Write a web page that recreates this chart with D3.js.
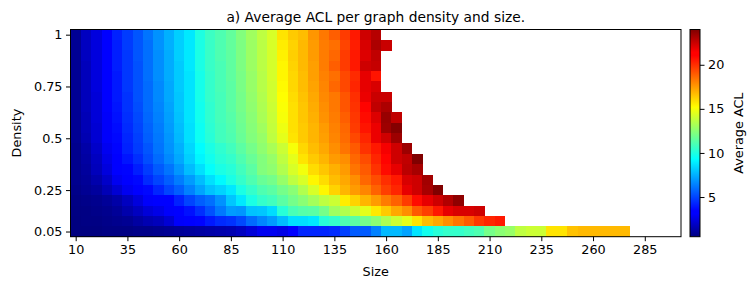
<!DOCTYPE html>
<html><head><meta charset="utf-8">
<script src="https://cdn.jsdelivr.net/npm/d3@7"></script>
<style>
body{margin:0;background:#fff}
svg text{font-family:"DejaVu Sans",sans-serif;fill:#000}
</style>
</head><body>
<svg id="chart" width="756" height="290"></svg>
<script>
// ---------- DATA ----------
const sizes = [10,15,20,25,30,35,40,45,50,55,60,65,70,75,80,85,90,95,100,105,110,115,120,125,130,135,140,145,150,155,160,165,170,175,180,185,190,195,200,205,210,215,220,225,230,235,240,245,250,255,260,265,270,275,280,285,290,295,300];
const densities = [1.0,0.95,0.9,0.85,0.8,0.75,0.7,0.65,0.6,0.55,0.5,0.45,0.4,0.35,0.3,0.25,0.2,0.15,0.1,0.05];
const sizeTicks = [10,35,60,85,110,135,160,185,210,235,260,285];
const densityTicks = [1,0.75,0.5,0.25,0.05];
const densityTickLabels = ["1","0.75","0.5","0.25","0.05"];
const colorTicks = [5,10,15,20];
const colorRange = [0.5,24.0];

// Average ACL, one array per density, values from size 10 upward (missing cells omitted at the end)
const acl_100 = [0.9,1.8,2.4,3.1,4.2,4.8,5.4,6.1,6.8,7.5,8.2,8.8,10.0,10.7,11.1,11.6,12.3,13.0,13.7,14.3,15.8,16.4,16.7,17.6,18.3,18.9,19.7,20.5,22.4,22.9];
const acl_095 = [0.9,1.8,2.4,3.1,4.1,4.8,5.4,6.0,6.8,7.5,8.2,8.8,9.9,10.6,11.1,11.6,12.2,12.9,13.6,14.3,15.6,16.2,16.8,17.5,18.2,18.5,19.5,20.4,22.2,23.1,22.5];
const acl_090 = [0.9,1.8,2.4,3.1,4.1,4.7,5.4,6.0,6.7,7.4,8.2,8.8,9.9,10.6,11.1,11.5,12.2,12.9,13.6,14.2,15.5,16.3,16.8,17.5,18.2,18.7,19.7,20.5,22.1,22.7];
const acl_085 = [0.9,1.7,2.4,3.1,4.1,4.7,5.3,6.0,6.7,7.4,8.1,8.8,9.9,10.6,11.0,11.5,12.2,12.9,13.6,14.2,15.4,16.2,16.8,17.4,18.2,18.9,19.7,20.5,22.4,22.6];
const acl_080 = [0.9,1.7,2.4,3.1,4.0,4.7,5.3,6.0,6.7,7.4,8.1,8.7,9.8,10.5,11.0,11.5,12.1,12.8,13.5,14.2,15.4,16.1,16.7,17.4,18.1,18.5,19.4,20.1,21.9,20.6];
const acl_075 = [0.9,1.7,2.4,3.1,4.0,4.7,5.3,5.9,6.6,7.3,8.1,8.7,9.8,10.5,11.0,11.4,12.1,12.8,13.5,14.1,15.3,16.1,16.7,17.3,18.0,18.7,19.4,20.2,21.9,22.2];
const acl_070 = [0.9,1.7,2.3,3.1,4.0,4.6,5.3,5.9,6.6,7.3,8.0,8.7,9.8,10.5,10.9,11.4,12.0,12.7,13.4,14.1,15.2,16.0,16.6,17.2,17.9,18.3,19.1,20.0,21.8,22.5,22.5];
const acl_065 = [0.9,1.7,2.3,3.1,3.9,4.6,5.2,5.9,6.5,7.2,8.0,8.7,9.7,10.4,10.9,11.4,12.0,12.6,13.3,14.0,15.1,15.9,16.5,17.1,17.8,18.3,19.1,19.9,21.0,22.7,23.1];
const acl_060 = [0.9,1.6,2.3,3.0,3.8,4.5,5.1,5.8,6.4,7.1,7.9,8.7,9.7,10.4,10.9,11.3,11.9,12.5,13.2,13.9,15.0,15.9,16.5,17.0,17.7,18.2,18.9,19.8,20.8,22.1,23.5,22.7];
const acl_055 = [0.9,1.6,2.2,3.0,3.7,4.4,5.0,5.7,6.3,7.0,7.8,8.6,9.6,10.3,10.8,11.2,11.8,12.4,13.0,13.8,14.8,15.9,16.4,16.9,17.5,18.1,18.7,19.7,20.6,21.8,23.4,23.9];
const acl_050 = [0.9,1.5,2.2,3.0,3.6,4.3,4.9,5.6,6.2,6.9,7.7,8.6,9.6,10.2,10.8,11.1,11.7,12.3,12.8,13.7,14.6,15.8,16.4,16.9,17.4,18.0,18.6,19.4,20.2,21.8,22.4,23.4];
const acl_045 = [0.8,1.3,2.0,2.8,3.5,4.2,4.8,5.4,6.1,6.8,7.5,8.4,9.3,9.9,10.4,10.8,11.4,12.0,12.6,13.2,14.0,15.0,16.1,16.7,17.2,17.8,18.4,19.0,19.9,20.5,21.6,22.4,23.4];
const acl_040 = [0.8,1.2,1.8,2.6,3.3,3.9,4.5,5.2,5.9,6.6,7.3,8.2,9.1,9.7,10.2,10.5,11.1,11.7,12.3,12.8,13.7,14.6,15.8,16.4,16.9,17.5,17.8,18.7,19.3,20.2,21.0,22.4,22.7,24.0];
const acl_035 = [0.8,1.1,1.7,2.4,3.1,3.5,4.1,4.8,5.5,6.1,6.9,7.8,8.6,9.4,9.9,10.2,10.8,11.4,12.3,12.6,13.4,14.3,14.9,16.0,16.5,17.0,17.5,18.4,19.0,19.9,20.8,21.9,22.8,23.2];
const acl_030 = [0.8,1.0,1.4,2.0,2.8,3.1,3.6,4.4,5.0,5.6,6.3,7.0,7.8,8.6,9.2,9.9,10.5,11.1,11.7,12.0,12.8,13.7,14.3,15.4,16.0,16.7,17.2,17.8,18.7,19.3,20.0,20.5,22.2,22.4,23.3];
const acl_025 = [0.7,0.9,1.1,1.6,2.2,2.8,3.2,3.6,4.3,5.0,5.6,6.4,7.2,7.9,8.3,8.8,9.9,10.5,11.1,11.4,12.0,12.5,13.4,14.3,15.4,16.2,16.9,17.5,18.0,18.8,19.6,20.2,21.9,22.4,23.2,24.0];
const acl_020 = [0.6,0.7,0.8,1.0,1.3,1.8,2.4,3.0,3.1,3.3,4.2,5.0,5.6,6.0,6.8,8.0,8.8,9.9,10.5,10.8,11.4,12.0,12.5,13.1,13.7,14.0,15.6,16.2,16.9,17.5,18.2,18.8,19.7,20.8,21.9,22.4,23.0,23.7];
const acl_015 = [0.55,0.6,0.7,0.8,1.0,1.4,1.8,2.3,2.6,3.0,3.3,3.8,4.5,5.3,6.2,7.0,6.9,7.9,8.0,8.5,10.2,11.0,11.3,11.4,12.0,13.0,13.4,14.0,14.6,15.7,16.4,17.2,17.8,19.0,19.6,20.5,21.9,22.2,22.2,22.4];
const acl_010 = [0.5,0.6,0.6,0.7,0.8,0.9,1.2,1.5,1.7,2.2,3.0,3.2,3.5,4.0,4.4,4.6,5.1,5.9,6.5,7.0,7.8,8.6,8.6,8.8,10.2,10.5,11.1,11.4,12.0,12.5,13.3,14.0,14.6,15.8,16.7,17.2,17.8,18.4,19.0,19.8,20.2,20.5];
const acl_005 = [0.5,0.5,0.5,0.6,0.6,0.6,0.7,0.7,0.8,0.9,1.0,1.1,1.2,1.3,1.4,1.5,1.8,2.3,2.8,2.8,2.6,3.2,4.3,4.3,4.3,4.4,4.9,5.5,5.5,6.4,7.7,7.7,7.2,8.7,9.7,10.2,10.5,10.5,10.8,11.1,12.0,12.5,12.8,13.7,14.0,14.0,15.8,15.8,16.6,16.8,16.8,16.8,16.8,16.8];

const aclRows = [acl_100,acl_095,acl_090,acl_085,acl_080,acl_075,acl_070,acl_065,acl_060,acl_055,
                 acl_050,acl_045,acl_040,acl_035,acl_030,acl_025,acl_020,acl_015,acl_010,acl_005];

const cells = [];
densities.forEach((d, i) => aclRows[i].forEach((v, j) => cells.push({size: sizes[j], density: d, value: v})));

// ---------- LAYOUT ----------
const svg = d3.select("#chart");
const L = 70.5, R = 681, T = 29.5, B = 236.7;
const step = 5, dStep = 0.05;
const x = d3.scaleLinear().domain([sizes[0] - step/2, sizes[sizes.length-1] + step/2]).range([L, R]);
const y = d3.scaleLinear().domain([densities[densities.length-1] - dStep/2, densities[0] + dStep/2]).range([B, T]);

// jet-like colormap
const jr = d3.scaleLinear().domain([0,0.375,0.625,0.89,1]).range([0,0,1,1,0.5]).clamp(true);
const jg = d3.scaleLinear().domain([0,0.125,0.375,0.625,0.875,1]).range([0,0,1,1,0,0]).clamp(true);
const jb = d3.scaleLinear().domain([0,0.11,0.375,0.625,1]).range([0.5,1,1,0,0]).clamp(true);
const norm = d3.scaleLinear().domain(colorRange).range([0,1]).clamp(true);
const jet = t => d3.rgb(jr(t)*255, jg(t)*255, jb(t)*255).toString();
const color = v => jet(norm(v));

const fontTick = 12.8, fontTitle = 13.8;

// cells
svg.append("g").selectAll("rect").data(cells).join("rect")
  .attr("x", d => x(d.size - step/2))
  .attr("y", d => y(d.density + dStep/2))
  .attr("width", d => x(d.size + step/2) - x(d.size - step/2) + 0.4)
  .attr("height", d => y(d.density - dStep/2) - y(d.density + dStep/2) + 0.4)
  .attr("fill", d => color(d.value))
  .attr("shape-rendering", "crispEdges");

// frame
svg.append("rect").attr("x", L).attr("y", T).attr("width", R - L).attr("height", B - T)
  .attr("fill", "none").attr("stroke", "#000").attr("stroke-width", 1);

// axes
const xAxis = d3.axisBottom(x).tickValues(sizeTicks).tickSize(4.5).tickPadding(3.5).tickFormat(d3.format("d"));
const gx = svg.append("g").attr("transform", `translate(0,${B})`).call(xAxis);
const yAxis = d3.axisLeft(y).tickValues(densityTicks).tickSize(4.5).tickPadding(3.5)
  .tickFormat((d, i) => densityTickLabels[i]);
const gy = svg.append("g").attr("transform", `translate(${L},0)`).call(yAxis);
[gx, gy].forEach(g => {
  g.select(".domain").remove();
  g.selectAll(".tick line").attr("stroke", "#000").attr("stroke-width", 1);
  g.selectAll(".tick text").attr("font-size", fontTick).attr("font-family", "DejaVu Sans");
});

// labels
svg.append("text").attr("x", (L + R)/2).attr("y", 22).attr("text-anchor", "middle")
  .attr("font-size", fontTitle).text("a) Average ACL per graph density and size.");
svg.append("text").attr("x", (L + R)/2).attr("y", 276).attr("text-anchor", "middle")
  .attr("font-size", fontTick).text("Size");
svg.append("text").attr("transform", `translate(21,${(T + B)/2}) rotate(-90)`).attr("text-anchor", "middle")
  .attr("font-size", fontTick).text("Density");

// colorbar
const cbL = 690, cbW = 10;
const cy = d3.scaleLinear().domain(colorRange).range([B, T]);
const defs = svg.append("defs");
const grad = defs.append("linearGradient").attr("id", "jetgrad")
  .attr("x1", 0).attr("y1", 1).attr("x2", 0).attr("y2", 0);
[0,0.11,0.125,0.375,0.625,0.875,0.89,1].forEach(t =>
  grad.append("stop").attr("offset", t).attr("stop-color", jet(t)));
svg.append("rect").attr("x", cbL).attr("y", T).attr("width", cbW).attr("height", B - T)
  .attr("fill", "url(#jetgrad)");
svg.append("rect").attr("x", cbL).attr("y", T).attr("width", cbW).attr("height", B - T)
  .attr("fill", "none").attr("stroke", "#000").attr("stroke-width", 1);
const cAxis = d3.axisRight(cy).tickValues(colorTicks).tickSize(4.5).tickPadding(3.5);
const gc = svg.append("g").attr("transform", `translate(${cbL + cbW},0)`).call(cAxis);
gc.select(".domain").remove();
gc.selectAll(".tick line").attr("stroke", "#000");
gc.selectAll(".tick text").attr("font-size", fontTick).attr("font-family", "DejaVu Sans");
svg.append("text").attr("transform", `translate(742.5,${(T + B)/2}) rotate(-90)`).attr("text-anchor", "middle")
  .attr("font-size", fontTick).text("Average ACL");
</script>
</body></html>
